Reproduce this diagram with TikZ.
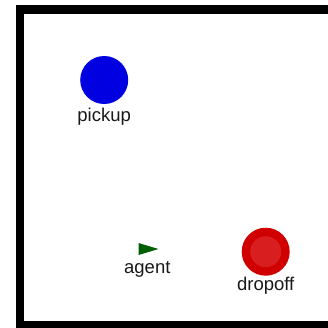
\documentclass[tikz,border=0pt]{standalone}
\usepackage{fontspec}
\setmainfont{Liberation Sans}
\definecolor{wallblack}{RGB}{0,0,0}
\definecolor{pickupblue}{RGB}{0,0,225}
\definecolor{dropred}{RGB}{208,0,0}
\definecolor{dropredinner}{RGB}{216,30,30}
\definecolor{agentgreen}{RGB}{0,96,0}
\definecolor{labelgray}{RGB}{25,25,25}
\tikzset{
  lbl/.style={anchor=base, inner sep=0pt, text=labelgray,
    font=\fontsize{18.5}{20}\selectfont},
  spot/.style={circle, inner sep=0pt, minimum size=48pt},
}
\begin{document}
\begin{tikzpicture}[x=1pt, y=-1pt]
  \useasboundingbox (0,0) rectangle (328,327);
  \clip (0,0) rectangle (328,327);
  % arena walls
  \fill[wallblack] (16,5) rectangle (345,345);
  \fill[white] (24,14) rectangle (340,321);
  % pickup location
  \node[spot, fill=pickupblue] (pickup) at (104.2,80) {};
  \node[lbl] (pickuplabel) at (104.2,121) {pickup};
  % dropoff location
  \node[spot, fill=dropred] (dropoff) at (265.7,251.7) {};
  \node[circle, inner sep=0pt, minimum size=31pt, fill=dropredinner] (dropoffcore) at (dropoff.center) {};
  \node[lbl] (dropofflabel) at (265.7,290) {dropoff};
  % agent, heading east
  \fill[agentgreen] (138.5,243) -- (158.5,249) -- (138.5,255) -- cycle;
  \node[lbl] (agentlabel) at (147.3,273) {agent};
\end{tikzpicture}
\end{document}
